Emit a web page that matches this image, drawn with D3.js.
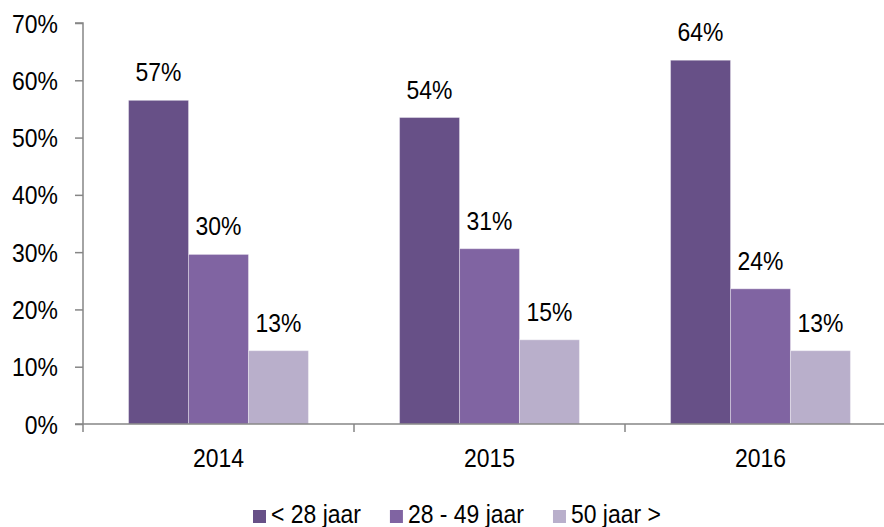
<!DOCTYPE html>
<html>
<head>
<meta charset="utf-8">
<script src="https://cdn.jsdelivr.net/npm/d3@7"></script>
<style>
  body { margin: 0; background: #fff; }
  svg { display: block; }
  text { font-family: "Liberation Sans", Arial, sans-serif; fill: #000; }
</style>
</head>
<body>
<svg id="chart" width="884" height="527"></svg>
<script>
// data
var years = ["2014", "2015", "2016"];
var seriesNames = ["< 28 jaar", "28 - 49 jaar", "50 jaar >"];
var young = [56.5, 53.5, 63.5];
var middle = [29.6, 30.6, 23.6];
var older = [12.8, 14.7, 12.8];
var yTicks = [0, 10, 20, 30, 40, 50, 60, 70];
var colors = ["#675087", "#8064a2", "#b9afcb"];

var svg = d3.select("#chart");
var fontSize = 25.5;
var squeeze = 0.9; // narrow look of the original font

// place a text at (px,py), squeezed horizontally
function place(sel, px, py) {
  sel.attr("x", 0).attr("y", 0)
    .attr("transform", function (d, i) {
      var a = typeof px === "function" ? px(d, i) : px;
      var b = typeof py === "function" ? py(d, i) : py;
      return "translate(" + a + "," + b + ") scale(" + squeeze + ",1)";
    })
    .style("font-size", fontSize + "px");
  return sel;
}

var x = d3.scaleBand().domain(years).range([83, 896]);
var x1 = d3.scaleBand().domain(seriesNames).range([0, x.bandwidth()]).paddingOuter(0.76);
var y = d3.scaleLinear().domain([0, 70]).range([424, 23]);

var rows = years.map(function (yr, i) {
  return { year: yr, vals: [young[i], middle[i], older[i]] };
});

// y axis
var yAxis = svg.append("g")
  .attr("transform", "translate(83,0)")
  .call(d3.axisLeft(y).tickValues(yTicks).tickSize(8)
    .tickFormat(function (d) { return d + "%"; }));
yAxis.attr("font-family", null).attr("font-size", null);
yAxis.select(".domain").attr("d", "M-8," + y(70) + "H0V" + y(0))
  .attr("stroke", "#868686").attr("stroke-width", 1.5);
yAxis.selectAll(".tick line").attr("stroke", "#868686").attr("stroke-width", 1.5);
place(yAxis.selectAll(".tick text").attr("dy", null), -25, 9)
  .attr("text-anchor", "end").attr("fill", "#000");

// bars
var groups = svg.selectAll("g.grp").data(rows).enter().append("g")
  .attr("class", "grp")
  .attr("transform", function (d) { return "translate(" + x(d.year) + ",0)"; });

var cells = groups.selectAll("g.cell")
  .data(function (d) { return d.vals.map(function (v, j) { return { v: v, s: seriesNames[j], j: j }; }); })
  .enter().append("g").attr("class", "cell");

cells.append("rect")
  .attr("x", function (d) { return x1(d.s); })
  .attr("y", function (d) { return y(d.v); })
  .attr("width", x1.bandwidth())
  .attr("height", function (d) { return y(0) - y(d.v); })
  .attr("fill", function (d) { return colors[d.j]; })
  .attr("stroke", "rgba(255,255,255,0.35)")
  .attr("stroke-width", 1);

place(cells.append("text"),
    function (d) { return x1(d.s) + x1.bandwidth() / 2; },
    function (d) { return y(d.v) - 19; })
  .attr("text-anchor", "middle")
  .text(function (d) { return Math.round(d.v) + "%"; });

// x axis
var xa = svg.append("g").attr("class", "xaxis");
xa.append("line")
  .attr("x1", 75).attr("x2", 884)
  .attr("y1", y(0)).attr("y2", y(0))
  .attr("stroke", "#868686").attr("stroke-width", 1.5);
var edges = years.map(function (d) { return x(d); }).concat([x.range()[1]]);
xa.selectAll("line.tk").data(edges).enter().append("line")
  .attr("class", "tk")
  .attr("x1", function (d) { return d; }).attr("x2", function (d) { return d; })
  .attr("y1", y(0)).attr("y2", y(0) + 8)
  .attr("stroke", "#868686").attr("stroke-width", 1.5);
place(xa.selectAll("text").data(years).enter().append("text"),
    function (d) { return x(d) + x.bandwidth() / 2; }, 467)
  .attr("text-anchor", "middle")
  .text(function (d) { return d; });

// legend
var legend = svg.append("g").attr("class", "legend");
var lx = 253;
seriesNames.forEach(function (name, i) {
  legend.append("rect")
    .attr("x", lx).attr("y", 510)
    .attr("width", 13).attr("height", 13)
    .attr("fill", colors[i]);
  var t = place(legend.append("text"), lx + 18, 523).text(name);
  lx += 18 + t.node().getComputedTextLength() * squeeze + 29;
});
</script>
</body>
</html>
